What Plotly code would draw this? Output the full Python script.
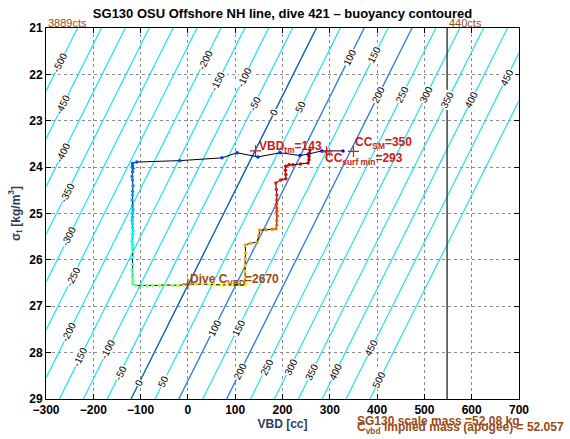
import numpy as np
import plotly.graph_objects as go

# ---------------- data ----------------
title_text = "SG130 OSU Offshore NH line, dive 421 \u2013 buoyancy contoured"

x_range = [-300, 700]
y_range = [21, 29]
vbd_min_cts_label = "3889cts"
vbd_max_cts_label = "440cts"
vbd_max = 548

# linear buoyancy model: b = a*VBD + c*sigma + d  [g]
b_a, b_c, b_d = 0.99, 48.5, -1287.5
level_start, level_end, level_step = -500, 500, 50
dark_levels = [0]
blue_levels = [100, 200]

# contour label values and the sigma at which each label sits
label_b = [-500, -450, -400, -350, -300, -250, -200, -150, -100, -50, 0, 50,
           100, 150, 200, 250, 300, 350, 400, 450, 500,
           -200, -150, -100, -50, 0, 50, 100, 150, 200, 250, 300, 350, 400, 450]
label_sigma = [21.75, 22.66, 23.69, 24.56, 25.50, 26.37, 27.57, 28.09, 27.94, 28.44, 28.65, 28.63,
               27.47, 27.47, 28.41, 28.31, 28.31, 28.41, 28.41, 27.90, 28.59,
               21.69, 22.16, 22.06, 22.62, 22.81, 22.70, 21.63, 21.58, 22.44, 22.44, 22.44, 22.55, 22.55, 22.06]

# glider trajectory (time order)
traj_vbd = [328, 283, 254, 237, 195, 148, 104, 72, -17, -108, -117,
            -117, -116, -117, -118, -117, -116, -117, -117, -118, -117,
            -116, -117, -117, -118, -117, -117, -116, -117, -117, -118,
            -117, -117, -116, -117, -117, -118, -117, -117, -116, -117,
            -110, -97, -86, -74, -60, -48, -33, -21, -9, 6, 17, 31, 45, 56, 71, 83, 95, 109, 121,
            121, 121, 120, 121, 121, 122, 121, 133, 146, 150, 152, 165, 178, 186,
            188, 188, 189, 188, 188, 187, 188, 188, 187, 186, 196, 207, 207, 206, 207,
            214, 222, 238, 254, 256, 256, 257, 258]
traj_sigma = [23.65, 23.65, 23.72, 23.75, 23.69, 23.78, 23.69, 23.80, 23.86, 23.89, 23.92,
              23.97, 24.03, 24.10, 24.20, 24.28, 24.40, 24.52, 24.60, 24.71, 24.83,
              24.92, 25.00, 25.08, 25.15, 25.22, 25.30, 25.38, 25.45, 25.52, 25.60,
              25.67, 25.74, 25.82, 25.95, 26.10, 26.22, 26.30, 26.38, 26.45, 26.52,
              26.55, 26.55, 26.56, 26.55, 26.55, 26.54, 26.55, 26.55, 26.54, 26.53,
              26.53, 26.52, 26.53, 26.54, 26.54, 26.54, 26.53, 26.54, 26.54,
              26.50, 26.38, 26.25, 26.12, 25.98, 25.85, 25.68, 25.64, 25.62, 25.48, 25.36, 25.35, 25.34, 25.33,
              25.25, 25.15, 25.05, 24.95, 24.88, 24.80, 24.71, 24.60, 24.48, 24.34, 24.28, 24.25, 24.16, 24.07, 23.98,
              23.95, 23.95, 23.93, 23.91, 23.84, 23.77, 23.70, 23.63]

# special points
vbd_tm, sigma_tm = 143, 23.65
cc_sm, sigma_sm = 350, 23.66
cc_surf_min, sigma_surf = 293, 23.67
dive_c_vbd_x, dive_c_sigma = 0, 26.52

# ---------------- figure ----------------
W, H = 570, 439
ML, MR, MT, MB = 46, 51, 28, 40
cyan = "rgb(30,226,232)"
dark_blue = "rgb(30,80,180)"
mid_blue = "rgb(85,115,215)"
brown = "#9a4a14"
red = "#cc1a1a"
font_family = "Liberation Sans, Arial, Helvetica, sans-serif"

pw = W - ML - MR
ph = H - MT - MB

def px_x(px):  # figure pixel -> paper x
    return (px - ML) / pw

def px_y(py):  # figure pixel -> paper y
    return (H - MB - py) / ph

gx = np.linspace(x_range[0], x_range[1], 21)
gy = np.linspace(y_range[0], y_range[1], 17)
GX, GY = np.meshgrid(gx, gy)
GZ = b_a * GX + b_c * GY + b_d

fig = go.Figure()
fig.add_trace(go.Contour(
    x=gx, y=gy, z=GZ, autocontour=False,
    contours=dict(start=level_start, end=level_end, size=level_step, coloring="lines", showlabels=False),
    colorscale=[[0, cyan], [1, cyan]], showscale=False, line=dict(width=1.2), hoverinfo="skip"))

# highlighted buoyancy levels drawn along the same model
sig_edges = np.array(y_range, dtype=float)
for lev_list, col in ((blue_levels, mid_blue), (dark_levels, dark_blue)):
    for lev in lev_list:
        fig.add_trace(go.Scatter(
            x=(lev - b_c * sig_edges - b_d) / b_a, y=sig_edges, mode="lines",
            line=dict(color=col, width=1.2), hoverinfo="skip", showlegend=False))

fig.add_trace(go.Scatter(
    x=traj_vbd, y=traj_sigma, mode="lines+markers",
    line=dict(color="black", width=1),
    marker=dict(size=3.5, color=list(range(len(traj_vbd))), cmin=-14, cmax=len(traj_vbd) + 2,
                colorscale=[[0, "rgb(0,0,128)"], [0.125, "rgb(0,0,255)"], [0.375, "rgb(0,255,255)"],
                            [0.625, "rgb(255,255,0)"], [0.875, "rgb(255,0,0)"], [1, "rgb(128,0,0)"]]),
    hoverinfo="skip", showlegend=False))

fig.add_trace(go.Scatter(
    x=[vbd_tm, cc_sm, cc_surf_min], y=[sigma_tm, sigma_sm, sigma_surf], mode="markers",
    marker=dict(symbol="cross-thin", size=8, line=dict(color=red, width=1.2)),
    hoverinfo="skip", showlegend=False))
fig.add_trace(go.Scatter(
    x=[dive_c_vbd_x], y=[dive_c_sigma], mode="markers",
    marker=dict(symbol="cross-thin", size=8, line=dict(color="#c8301a", width=1.2)),
    hoverinfo="skip", showlegend=False))

fig.add_shape(type="line", x0=vbd_max, x1=vbd_max, y0=0, y1=1, xref="x", yref="paper",
              line=dict(color="#404040", width=1.5))

# contour label annotations
px_per_x = pw / (x_range[1] - x_range[0])
px_per_y = ph / (y_range[1] - y_range[0])
angle = np.degrees(np.arctan2(px_per_y, (b_c / b_a) * px_per_x))
for b, s in zip(label_b, label_sigma):
    xv = (b - b_c * s - b_d) / b_a
    fig.add_annotation(x=xv, y=s, text=str(b), showarrow=False, textangle=-angle,
                       font=dict(size=10, color="black", family=font_family),
                       bgcolor="white", borderpad=0)

ann_font = dict(family=font_family, size=11)
fig.add_annotation(x=0, y=1, xref="paper", yref="paper", xanchor="left", yanchor="bottom",
                   text=vbd_min_cts_label, showarrow=False, font=dict(ann_font, color=brown), yshift=-3)
fig.add_annotation(x=vbd_max, y=1, xref="x", yref="paper", xanchor="left", yanchor="bottom",
                   text=vbd_max_cts_label, showarrow=False, font=dict(ann_font, color=brown), yshift=-3)

lab_font = dict(family=font_family, size=12, weight="bold")
fig.add_annotation(x=vbd_tm, y=sigma_tm, text="VBD<sub>tm</sub>=%d" % vbd_tm, showarrow=False,
                   xanchor="left", yanchor="middle", xshift=1, yshift=4, font=dict(lab_font, color=red))
fig.add_annotation(x=cc_sm, y=sigma_sm, text="CC<sub>SM</sub>=%d" % cc_sm, showarrow=False,
                   xanchor="left", yanchor="middle", xshift=0, yshift=8, font=dict(lab_font, color=red))
fig.add_annotation(x=cc_surf_min, y=sigma_surf, text="CC<sub>surf min</sub>=%d" % cc_surf_min, showarrow=False,
                   xanchor="left", yanchor="middle", xshift=-3, yshift=-7, font=dict(lab_font, color=red))
fig.add_annotation(x=dive_c_vbd_x, y=dive_c_sigma, text="Dive C<sub>VBD</sub>=2670", showarrow=False,
                   xanchor="left", yanchor="middle", xshift=0, yshift=4, font=dict(lab_font, color=brown))

fig.add_annotation(x=px_x(355), y=px_y(421), xref="paper", yref="paper", xanchor="left", yanchor="middle",
                   text="SG130 scale mass =52.08 kg", showarrow=False,
                   font=dict(family=font_family, size=12, weight="bold", color=brown))
fig.add_annotation(x=px_x(355), y=px_y(428), xref="paper", yref="paper", xanchor="left", yanchor="middle",
                   text="C<sub>vbd</sub> implied mass (apogee) = 52.057", showarrow=False,
                   font=dict(family=font_family, size=12, weight="bold", color=brown))

axis_common = dict(showline=True, linecolor="black", linewidth=1, mirror="ticks",
                   ticks="inside", ticklen=5, tickcolor="black",
                   showgrid=True, gridcolor="#8c8c8c", griddash="dot", gridwidth=1,
                   zeroline=False, automargin=False,
                   tickfont=dict(family=font_family, size=12, weight="bold", color="black"))

fig.update_layout(
    width=W, height=H,
    margin=dict(l=ML, r=MR, t=MT, b=MB),
    paper_bgcolor="white", plot_bgcolor="white",
    showlegend=False,
    font=dict(family=font_family),
    title=dict(text=title_text, x=0.5, xref="paper", xanchor="center",
               y=1 - 13 / H, yref="container", yanchor="middle",
               font=dict(family=font_family, size=13, weight="bold", color="black")),
    xaxis=dict(axis_common, range=x_range, dtick=100, tick0=0,
               title=dict(text="VBD [cc]", standoff=2,
                          font=dict(family=font_family, size=12, weight="bold"))),
    yaxis=dict(axis_common, range=[y_range[1], y_range[0]], dtick=1,
               title=dict(text="\u03c3<sub>t</sub> [kg/m<sup>3</sup>]", standoff=6,
                          font=dict(family=font_family, size=12, weight="bold"))),
)

fig.write_html("out.html", config={"displayModeBar": False},
               post_script="document.body.style.margin='0px';document.body.style.padding='0px';")
